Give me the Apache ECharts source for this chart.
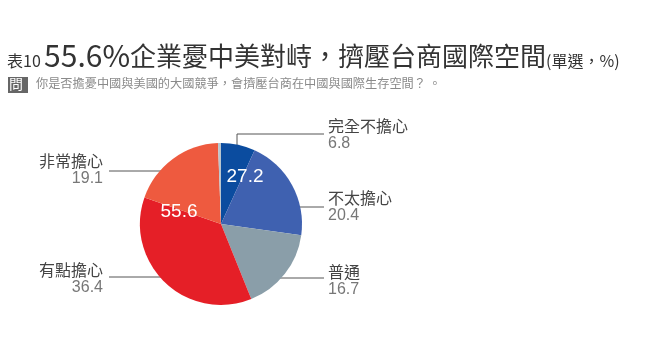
<!DOCTYPE html>
<html>
<head>
<meta charset="utf-8">
<style>
  html, body { margin: 0; padding: 0; background: #fff; }
  #chart { width: 656px; height: 351px; }
</style>
<script src="https://cdn.jsdelivr.net/npm/echarts@6/dist/echarts.min.js"></script>
</head>
<body>
<div id="chart"></div>
<script>
var categories = ['完全不擔心', '不太擔心', '普通', '有點擔心', '非常擔心', '無反應'];
var values = [6.8, 20.4, 16.7, 36.4, 19.1, 0.6];
var colors = ['#0b4c9f', '#3f61b0', '#8a9ea9', '#e51f27', '#ee5a3f', '#b9c5cd'];
// published combined shares (not worried / worried), rounded from raw data
var combined = ['27.2', '55.6'];

// label boxes and leader lines, one per slice (last slice has none)
var labelSpots = [
  { x: 328, y: 117, align: 'left',  line: [[237, 160], [237, 134], [324, 134]] },
  { x: 328, y: 189, align: 'left',  line: [[275, 207], [324, 207]] },
  { x: 328, y: 263, align: 'left',  line: [[267, 278], [324, 278]] },
  { x: 103, y: 261, align: 'right', line: [[167, 277], [109, 277]] },
  { x: 103, y: 152, align: 'right', line: [[163, 171], [109, 171]] }
];

var cjk = '"Noto Sans CJK TC", "Liberation Sans Narrow", sans-serif';
var narrow = '"Liberation Sans Narrow", "Noto Sans CJK TC", sans-serif';

var myChart = echarts.init(document.getElementById('chart'));
var option = {
  animation: false,
  graphic: [
    {
      type: 'text', left: 7, top: 41, z: 100,
      style: {
        text: '{a|表10} {b|55.6%}{c|企業憂中美對峙，擠壓台商國際空間}{d|(單選，%)}',
        rich: {
          a: { fontSize: 16, fontFamily: narrow, fill: '#333', verticalAlign: 'bottom', padding: [0, 0, 2, 0] },
          b: { fontSize: 30, fontFamily: narrow, fill: '#333' },
          c: { fontSize: 26, fontFamily: cjk, fill: '#333' },
          d: { fontSize: 16, fontFamily: narrow, fill: '#333', verticalAlign: 'bottom', padding: [0, 0, 2, 0] }
        }
      }
    },
    {
      type: 'rect', shape: { x: 8, y: 77, width: 20, height: 16 }, z: 100,
      style: { fill: '#666' }
    },
    {
      type: 'text', left: 9, top: 77, z: 101,
      style: { text: '問', fontSize: 14, fontFamily: cjk, fill: '#fff' }
    },
    {
      type: 'text', left: 36, top: 77, z: 100,
      style: {
        text: '你是否擔憂中國與美國的大國競爭，會擠壓台商在中國與國際生存空間？ 。',
        fontSize: 12.2, fontFamily: cjk, fill: '#8a8a8a'
      }
    },
    {
      type: 'text', x: 245, y: 177, z: 100,
      style: { text: combined[0], fontSize: 19, fontFamily: 'Liberation Sans, sans-serif', fill: '#fff', align: 'center', verticalAlign: 'middle' }
    },
    {
      type: 'text', x: 179, y: 212, z: 100,
      style: { text: combined[1], fontSize: 19, fontFamily: 'Liberation Sans, sans-serif', fill: '#fff', align: 'center', verticalAlign: 'middle' }
    }
  ],
  series: [
    {
      type: 'pie',
      center: [221, 224],
      radius: 81,
      startAngle: 90,
      clockwise: true,
      silent: true,
      data: categories.map(function (name, i) {
        return {
          name: name,
          value: values[i],
          itemStyle: { color: colors[i] },
          label: { show: i < labelSpots.length },
          labelLine: { show: i < labelSpots.length }
        };
      }),
      label: {
        position: 'outside',
        formatter: function (p) {
          return '{n|' + p.name + '}\n{v|' + p.value + '}';
        },
        rich: {
          n: { fontSize: 16, fontFamily: cjk, color: '#444', lineHeight: 18 },
          v: { fontSize: 16, fontFamily: 'Liberation Sans, sans-serif', color: '#777', lineHeight: 18 }
        }
      },
      labelLine: {
        lineStyle: { color: '#555', width: 1 }
      },
      labelLayout: function (params) {
        var s = labelSpots[params.dataIndex];
        if (!s) return {};
        return {
          x: s.x, y: s.y, align: s.align, verticalAlign: 'top',
          labelLinePoints: s.line
        };
      }
    }
  ]
};
myChart.setOption(option);
window.addEventListener('resize', function () {
  myChart.resize();
});
</script>
</body>
</html>
